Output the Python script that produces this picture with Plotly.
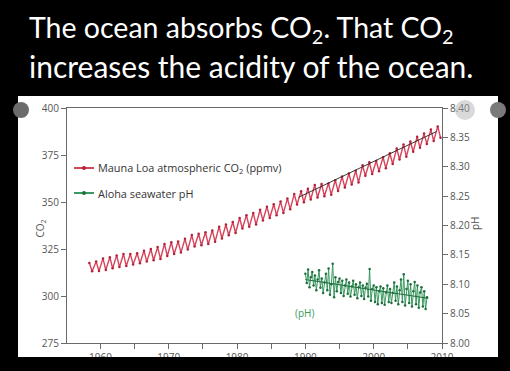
import plotly.graph_objects as go

# ---------------- data ----------------
co2_years = list(range(1958, 2010))
co2_peak = [317.5, 318.3, 320.0, 320.6, 321.6, 322.3, 322.4, 322.8, 324.1, 325.0,
            326.0, 327.7, 328.6, 329.0, 330.4, 332.4, 333.1, 333.9, 334.9, 336.9,
            338.0, 339.4, 341.5, 343.0, 344.2, 345.9, 347.5, 348.8, 350.2, 351.8,
            354.2, 355.7, 357.1, 359.1, 359.6, 359.9, 361.6, 363.5, 365.2, 366.6,
            369.5, 371.1, 371.8, 373.8, 375.9, 378.5, 380.6, 382.2, 384.7, 386.4,
            388.5, 390.2]
co2_trough = [313.2, 313.3, 313.8, 314.7, 315.4, 316.0, 316.8, 317.4, 318.3, 319.0,
              319.7, 321.3, 322.3, 323.1, 324.7, 326.3, 327.0, 327.6, 328.9, 330.6,
              332.3, 333.5, 335.9, 336.8, 338.0, 340.2, 341.5, 343.0, 344.2, 346.2,
              348.7, 349.9, 351.3, 352.4, 353.1, 353.9, 355.8, 357.7, 359.3, 360.4,
              364.0, 364.9, 366.4, 368.0, 370.2, 372.6, 374.1, 376.7, 378.9, 380.9,
              382.5, 384.2]
co2_trend_x = [1989.0, 2009.2]
co2_trend_y = [352.5, 387.5]

ph_x = [1990.0, 1990.2, 1990.4, 1990.6, 1990.8, 1991.0, 1991.2, 1991.4, 1991.6, 1991.8,
        1992.0, 1992.2, 1992.4, 1992.6, 1992.8, 1993.0, 1993.2, 1993.4, 1993.6, 1993.8,
        1994.0, 1994.2, 1994.4, 1994.6, 1994.8, 1995.0, 1995.2, 1995.4, 1995.6, 1995.8,
        1996.0, 1996.2, 1996.4, 1996.6, 1996.8, 1997.0, 1997.2, 1997.4, 1997.6, 1997.8,
        1998.0, 1998.2, 1998.4, 1998.6, 1998.8, 1999.0, 1999.2, 1999.4, 1999.6, 1999.8,
        2000.0, 2000.2, 2000.4, 2000.6, 2000.8, 2001.0, 2001.2, 2001.4, 2001.6, 2001.8,
        2002.0, 2002.2, 2002.4, 2002.6, 2002.8, 2003.0, 2003.2, 2003.4, 2003.6, 2003.8,
        2004.0, 2004.2, 2004.4, 2004.6, 2004.8, 2005.0, 2005.2, 2005.4, 2005.6, 2005.8,
        2006.0, 2006.2, 2006.4, 2006.6, 2006.8, 2007.0, 2007.2, 2007.4, 2007.6, 2007.8]
ph_y = [8.118, 8.102, 8.125, 8.095, 8.112, 8.121, 8.098, 8.115, 8.090, 8.108,
        8.124, 8.094, 8.110, 8.085, 8.103, 8.118, 8.090, 8.127, 8.082, 8.100,
        8.135, 8.078, 8.112, 8.088, 8.104, 8.110, 8.085, 8.106, 8.080, 8.098,
        8.108, 8.084, 8.103, 8.079, 8.096, 8.106, 8.082, 8.100, 8.076, 8.095,
        8.103, 8.080, 8.098, 8.075, 8.094, 8.101, 8.079, 8.126, 8.072, 8.092,
        8.098, 8.070, 8.095, 8.066, 8.088, 8.096, 8.068, 8.093, 8.065, 8.086,
        8.098, 8.070, 8.092, 8.068, 8.085, 8.103, 8.072, 8.096, 8.066, 8.090,
        8.108, 8.070, 8.117, 8.064, 8.092, 8.106, 8.068, 8.100, 8.062, 8.088,
        8.104, 8.066, 8.098, 8.060, 8.086, 8.095, 8.062, 8.088, 8.058, 8.078]
ph_trend_x = [1990.0, 2008.0]
ph_trend_y = [8.108, 8.076]

x_tickvals = [1960, 1965, 1970, 1975, 1980, 1985, 1990, 1995, 2000, 2005, 2010]
x_ticktext = ["1960", "", "1970", "", "1980", "", "1990", "", "2000", "", "2010"]
co2_ticks = [275, 300, 325, 350, 375, 400]
ph_ticks = [8.00, 8.05, 8.10, 8.15, 8.20, 8.25, 8.30, 8.35, 8.40]

legend_labels = ["Mauna Loa atmospheric CO<sub>2</sub> (ppmv)", "Aloha seawater pH"]

# build the seasonal zig-zag (peak in May, trough in October)
co2_x, co2_y = [], []
for yr, pk, tr in zip(co2_years, co2_peak, co2_trough):
    co2_x += [yr + 0.37, yr + 0.78]
    co2_y += [pk, tr]

# ---------------- figure ----------------
W, H = 510, 371
L, R, T, B = 67, 442, 108, 343
pw, ph_ = R - L, B - T


def px(xp):
    return (xp - L) / pw


def py(yp):
    return (B - yp) / ph_


RED = "#d8425a"
RED_D = "#b52038"
GREEN = "#3a9a60"
GREEN_D = "#1f6e3e"
AX = "#6a6a6a"
TXT = "#555555"
FONT = "Open Sans"

fig = go.Figure()
fig.add_trace(go.Scatter(
    x=co2_x, y=co2_y, mode="lines+markers", name=legend_labels[0],
    line=dict(color=RED, width=1.4), marker=dict(color=RED_D, size=2.5)))
fig.add_trace(go.Scatter(
    x=co2_trend_x, y=co2_trend_y, mode="lines",
    line=dict(color="#222222", width=0.9)))
fig.add_trace(go.Scatter(
    x=ph_x, y=ph_y, mode="lines+markers", name=legend_labels[1], yaxis="y2",
    line=dict(color=GREEN, width=1), marker=dict(color=GREEN_D, size=2.5)))
fig.add_trace(go.Scatter(
    x=ph_trend_x, y=ph_trend_y, mode="lines", yaxis="y2",
    line=dict(color=GREEN_D, width=1)))

shapes = [
    # white panel
    dict(type="rect", xref="paper", yref="paper", x0=px(18), x1=px(498), y0=py(357), y1=py(96),
         fillcolor="white", line=dict(width=0), layer="below"),
    # black strip cutting the bottom of the panel
    dict(type="rect", xref="paper", yref="paper", x0=px(-5), x1=px(515), y0=py(376), y1=py(357),
         fillcolor="black", line=dict(width=0), layer="above"),
    # carousel buttons
    dict(type="circle", xref="paper", yref="paper", x0=px(13), x1=px(29), y0=py(118), y1=py(102),
         fillcolor="#6b6b6b", line=dict(width=0), layer="above"),
    dict(type="circle", xref="paper", yref="paper", x0=px(455), x1=px(475), y0=py(120), y1=py(100),
         fillcolor="rgba(170,170,170,0.45)", line=dict(width=0), layer="above"),
    dict(type="circle", xref="paper", yref="paper", x0=px(490), x1=px(506), y0=py(118), y1=py(102),
         fillcolor="#7a7a7a", line=dict(width=0), layer="above"),
]

annotations = [
    dict(text="The ocean absorbs CO<sub>2</sub>. That CO<sub>2</sub>", xref="paper", yref="paper",
         x=px(27), y=py(29), xanchor="left", yanchor="middle", showarrow=False,
         font=dict(family="Lato", size=28.5, color="white")),
    dict(text="increases the acidity of the ocean.", xref="paper", yref="paper",
         x=px(27), y=py(66), xanchor="left", yanchor="middle", showarrow=False,
         font=dict(family="Lato", size=30, color="white")),
    dict(text="CO<sub>2</sub>", xref="paper", yref="paper", x=px(30), y=py(229),
         textangle=-90, showarrow=False, font=dict(family=FONT, size=10, color=TXT)),
    dict(text="pH", xref="paper", yref="paper", x=px(484), y=py(223),
         textangle=-90, showarrow=False, font=dict(family=FONT, size=10, color=TXT)),
    dict(text="(pH)", xref="paper", yref="paper", x=px(304), y=py(322),
         showarrow=False, font=dict(family=FONT, size=10, color=GREEN)),
    dict(text="<", xref="paper", yref="paper", x=px(21), y=py(110),
         showarrow=False, font=dict(family=FONT, size=11, color="white")),
]

# legend drawn as a key: short line with a dot, then the label
for (lab, col, dcol, yy) in [(legend_labels[0], RED, RED_D, 168), (legend_labels[1], GREEN, GREEN_D, 193)]:
    shapes.append(dict(type="line", xref="paper", yref="paper", x0=px(74), x1=px(94),
                       y0=py(yy), y1=py(yy), line=dict(color=col, width=2)))
    shapes.append(dict(type="circle", xref="paper", yref="paper", x0=px(82), x1=px(86),
                       y0=py(yy + 2), y1=py(yy - 2), fillcolor=dcol, line=dict(width=0)))
    annotations.append(dict(text=lab, xref="paper", yref="paper", x=px(96), y=py(yy),
                            xanchor="left", yanchor="middle", showarrow=False,
                            font=dict(family=FONT, size=10.9, color="#333333")))

fig.update_layout(
    width=W, height=H,
    margin=dict(l=L, r=W - R, t=T, b=H - B, pad=0, autoexpand=False),
    paper_bgcolor="black", plot_bgcolor="white",
    font=dict(family=FONT, size=10, color=TXT),
    showlegend=False,
    xaxis=dict(range=[1955.1, 2010], tickvals=x_tickvals, ticktext=x_ticktext,
               ticks="outside", ticklen=5, tickcolor=AX, showline=True, linecolor=AX,
               linewidth=1, mirror=True, showgrid=False, zeroline=False, automargin=False,
               tickfont=dict(size=10, color=TXT)),
    yaxis=dict(range=[275, 400], tickvals=co2_ticks, ticks="outside", ticklen=5,
               tickcolor=AX, showline=True, linecolor=AX, linewidth=1, showgrid=False,
               zeroline=False, automargin=False, tickfont=dict(size=10, color=TXT)),
    yaxis2=dict(range=[8.00, 8.40], tickvals=ph_ticks, tickformat=".2f", overlaying="y",
                side="right", ticks="outside", ticklen=5, tickcolor=AX, showline=True,
                linecolor=AX, linewidth=1, showgrid=False, zeroline=False, automargin=False,
                tickfont=dict(size=10, color=TXT)),
    shapes=shapes, annotations=annotations,
)

fig.write_html(
    "out.html",
    config={"displayModeBar": False},
    post_script="document.body.style.margin='0';document.body.style.background='black';",
)
